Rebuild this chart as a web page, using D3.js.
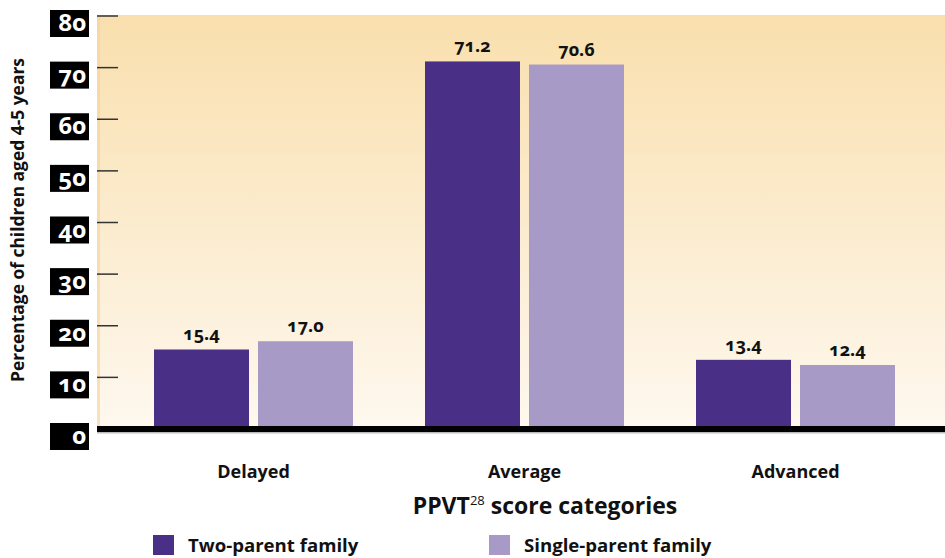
<!DOCTYPE html>
<html>
<head>
<meta charset="utf-8">
<script src="https://cdn.jsdelivr.net/npm/d3@7"></script>
<style>
  body { margin: 0; background: #fff; }
  svg { display: block; font-family: "Open Sans", "Noto Sans", sans-serif; }
  .onum { font-variant-numeric: oldstyle-nums; font-feature-settings: "onum" 1; }
</style>
</head>
<body>
<svg width="945" height="558"></svg>
<script>
const categories = ["Delayed", "Average", "Advanced"];
const seriesNames = ["Two-parent family", "Single-parent family"];
const twoParent = [15.4, 71.2, 13.4];
const singleParent = [17.0, 70.6, 12.4];
const yTicks = [0, 10, 20, 30, 40, 50, 60, 70, 80];
const colors = ["#4a2f87", "#a89ac7"];

const rows = categories.map((c, i) => ({cat: c, values: [twoParent[i], singleParent[i]]}));

const svg = d3.select("svg");

const plotLeft = 97, plotRight = 945, plotTop = 15, zeroY = 429;

let y = d3.scaleLinear().domain([0, 80]).range([zeroY, 16]);
let x0 = d3.scaleBand().domain(categories).range([118, 931]).padding(0);
let x1 = d3.scaleBand().domain([0, 1]).range([36, 235]).paddingInner(0.0865);

// background gradient
let defs = svg.append("defs");
let grad = defs.append("linearGradient").attr("id", "bg")
    .attr("x1", 0).attr("y1", 0).attr("x2", 0).attr("y2", 1);
grad.append("stop").attr("offset", "0%").attr("stop-color", "#f9dfad");
grad.append("stop").attr("offset", "100%").attr("stop-color", "#fef8ef");

svg.append("rect")
    .attr("x", plotLeft).attr("y", plotTop)
    .attr("width", plotRight - plotLeft).attr("height", zeroY - plotTop)
    .attr("fill", "url(#bg)");
svg.append("rect")
    .attr("x", plotLeft).attr("y", plotTop)
    .attr("width", 3).attr("height", zeroY - plotTop)
    .attr("fill", "#f7d29a").attr("opacity", 0.6);

// y ticks and boxed labels
let tick = svg.append("g").selectAll("g")
    .data(yTicks)
    .enter().append("g")
    .attr("transform", d => "translate(0," + y(d) + ")");

tick.filter(d => d > 0).append("line")
    .attr("x1", plotLeft).attr("x2", 118)
    .attr("stroke", "#333").attr("stroke-width", 1.5);

tick.append("rect")
    .attr("x", 50).attr("y", -6).attr("width", 39).attr("height", 27)
    .attr("fill", "#000");

tick.append("text")
    .attr("class", "onum")
    .attr("x", 86).attr("y", 15)
    .attr("text-anchor", "end")
    .attr("fill", "#fff")
    .attr("font-weight", "bold")
    .attr("font-size", 24)
    .text(d => d);

// y axis title
svg.append("text")
    .attr("transform", "translate(24," + 220 + ") rotate(-90)")
    .attr("text-anchor", "middle")
    .attr("font-weight", "bold")
    .attr("font-size", 17.4)
    .attr("fill", "#111")
    .text("Percentage of children aged 4-5 years");

// bars
let group = svg.append("g").selectAll("g")
    .data(rows)
    .enter().append("g")
    .attr("transform", d => "translate(" + x0(d.cat) + ",0)");

group.selectAll("rect")
    .data(d => d.values)
    .enter().append("rect")
    .attr("x", (d, i) => x1(i))
    .attr("y", d => y(d))
    .attr("width", x1.bandwidth())
    .attr("height", d => zeroY - y(d))
    .attr("fill", (d, i) => colors[i]);

group.selectAll("text.val")
    .data(d => d.values)
    .enter().append("text")
    .attr("class", "val onum")
    .attr("x", (d, i) => x1(i) + x1.bandwidth() / 2)
    .attr("y", d => y(d) - 9)
    .attr("text-anchor", "middle")
    .attr("font-weight", "bold")
    .attr("font-size", 18)
    .attr("fill", "#111")
    .text(d => d.toFixed(1));

// baseline
svg.append("rect")
    .attr("x", plotLeft).attr("y", 426)
    .attr("width", plotRight - plotLeft).attr("height", 6)
    .attr("fill", "#000");
svg.append("rect")
    .attr("x", plotLeft).attr("y", 432)
    .attr("width", plotRight - plotLeft).attr("height", 1.5)
    .attr("fill", "#bbb");

// category labels
svg.append("g").selectAll("text")
    .data(categories)
    .enter().append("text")
    .attr("x", d => x0(d) + x0.bandwidth() / 2)
    .attr("y", 478)
    .attr("text-anchor", "middle")
    .attr("font-weight", "bold")
    .attr("font-size", 18)
    .attr("fill", "#111")
    .text(d => d);

// x axis title
let xt = svg.append("text")
    .attr("x", 545).attr("y", 514)
    .attr("text-anchor", "middle")
    .attr("font-weight", "bold")
    .attr("font-size", 23)
    .attr("fill", "#111");
xt.append("tspan").text("PPVT");
xt.append("tspan").attr("font-size", 13).attr("font-weight", "normal")
    .attr("dy", -9).text("28");
xt.append("tspan").attr("dy", 9).text(" score categories");

// legend
let legendX = [153, 489];
let leg = svg.append("g").selectAll("g")
    .data(seriesNames)
    .enter().append("g")
    .attr("transform", (d, i) => "translate(" + legendX[i] + ",535)");

leg.append("rect")
    .attr("width", 21).attr("height", 20)
    .attr("fill", (d, i) => colors[i]);

leg.append("text")
    .attr("x", 35).attr("y", 17)
    .attr("font-weight", "bold")
    .attr("font-size", 18.6)
    .attr("fill", "#111")
    .text(d => d);
</script>
</body>
</html>
